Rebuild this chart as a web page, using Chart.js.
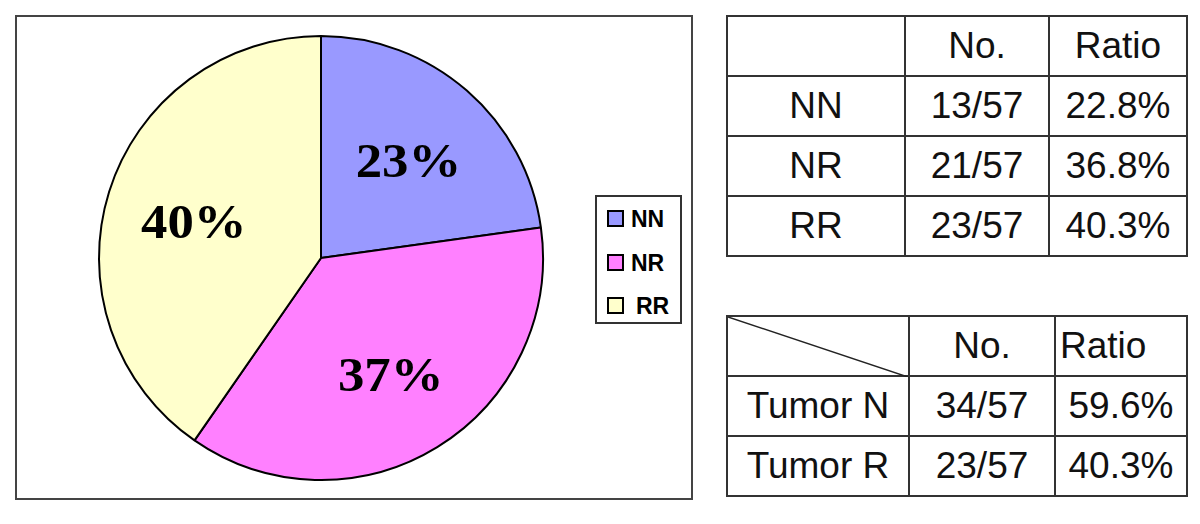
<!DOCTYPE html>
<html>
<head>
<meta charset="utf-8">
<script src="https://cdn.jsdelivr.net/npm/chart.js@4"></script>
<style>
  body { margin: 0; background: #fff; width: 1200px; height: 524px; position: relative; overflow: hidden; font-family: Arial, "Liberation Sans", sans-serif; }
  #pieBox { position: absolute; left: 15px; top: 15px; width: 674px; height: 481px; border: 2px solid #444; }
  #pieWrap { position: absolute; left: 91px; top: 28px; width: 460px; height: 460px; }
  #legendBox { position: absolute; left: 595px; top: 195px; width: 83px; height: 125px; border: 2px solid #333; }
  .lg-item { position: absolute; left: 10px; height: 24px; font-family: Arial, "Liberation Sans", sans-serif; font-weight: bold; font-size: 23px; line-height: 24px; color: #000; white-space: nowrap; }
  .lg-item span.sw { display: inline-block; width: 13px; height: 13px; border: 2px solid #000; vertical-align: 0px; margin-right: 7px; }
  table { position: absolute; border-collapse: collapse; font-family: Arial, "Liberation Sans", sans-serif; font-size: 37px; color: #111; }
  td { border: 2px solid #333; text-align: center; padding: 0; }
  #tbl1 { left: 726px; top: 15px; }
  #tbl2 { left: 726px; top: 315px; }
</style>
</head>
<body>
<div id="pieBox"></div>
<div id="pieWrap"><canvas id="pieChart" width="460" height="460"></canvas></div>
<div id="legendBox"></div>
<table id="tbl1"></table>
<table id="tbl2"></table>

<script>
// pie data
const groupLabels = ['NN', 'NR', 'RR'];
const groupCounts = [13, 21, 23];
const totalCases = 57;
const groupRatios = ['22.8%', '36.8%', '40.3%'];
const sliceColors = ['#9999FF', '#FF80FF', '#FFFFCC'];

// second table
const tumorLabels = ['Tumor N', 'Tumor R'];
const tumorCounts = [34, 23];
const tumorRatios = ['59.6%', '40.3%'];

const headerLabels = ['No.', 'Ratio'];

// percent labels drawn on the slices
const sliceLabels = {
  id: 'sliceLabels',
  afterDatasetsDraw(chart) {
    const ctx = chart.ctx;
    const meta = chart.getDatasetMeta(0);
    const vals = chart.data.datasets[0].data;
    const sum = vals.reduce((a, b) => a + b, 0);
    meta.data.forEach((arc, i) => {
      const p = arc.getProps(['x', 'y', 'startAngle', 'endAngle', 'outerRadius'], true);
      const mid = (p.startAngle + p.endAngle) / 2;
      const r = p.outerRadius * 0.6;
      const txt = Math.round(vals[i] / sum * 100) + '%';
      ctx.save();
      ctx.translate(p.x + Math.cos(mid) * r, p.y + Math.sin(mid) * r + 7);
      ctx.scale(1.1, 1); // original font is a bit wider
      ctx.font = 'bold 48px "Liberation Serif", "Times New Roman", serif';
      ctx.fillStyle = '#000';
      ctx.textAlign = 'center';
      ctx.textBaseline = 'middle';
      ctx.fillText(txt, 0, 0);
      ctx.restore();
    });
  }
};

new Chart('pieChart', {
  type: 'pie',
  data: {
    labels: groupLabels,
    datasets: [{
      data: groupCounts,
      backgroundColor: sliceColors,
      borderColor: '#000',
      borderWidth: 2,
      radius: 222
    }]
  },
  options: {
    responsive: false,
    animation: false,
    plugins: {
      legend: { display: false },
      tooltip: { enabled: false }
    }
  },
  plugins: [sliceLabels]
});

// legend
const legendBox = document.getElementById('legendBox');
const legendTops = [10, 54, 97];
groupLabels.forEach((lab, i) => {
  const d = document.createElement('div');
  d.className = 'lg-item';
  d.style.top = legendTops[i] + 'px';
  d.innerHTML = '<span class="sw" style="background:' + sliceColors[i] + '"></span>' +
    '<span style="margin-left:' + (i === 2 ? 5 : 0) + 'px">' + lab + '</span>';
  legendBox.appendChild(d);
});

// tables
function buildTable(id, labels, counts, ratios, colW, rowH, diag) {
  const t = document.getElementById(id);
  let html = '<tr style="height:' + rowH + 'px">';
  html += '<td style="width:' + colW[0] + 'px;position:relative">' +
    (diag ? '<svg width="' + colW[0] + '" height="' + rowH + '" style="position:absolute;left:0;top:0"><line x1="0" y1="0" x2="' + colW[0] + '" y2="' + rowH + '" stroke="#222" stroke-width="1.5"/></svg>' : '') +
    '</td>';
  html += '<td style="width:' + colW[1] + 'px">' + headerLabels[0] + '</td>';
  html += '<td style="width:' + colW[2] + 'px' + (diag ? ';text-align:left;padding-left:4px' : '') + '">' + headerLabels[1] + '</td></tr>';
  labels.forEach((lab, i) => {
    html += '<tr style="height:' + rowH + 'px"><td>' + lab + '</td><td>' + counts[i] + '/' + totalCases + '</td><td>' + ratios[i] + '</td></tr>';
  });
  t.innerHTML = html;
}
buildTable('tbl1', groupLabels, groupCounts, groupRatios, [176, 142, 136], 60, false);
buildTable('tbl2', tumorLabels, tumorCounts, tumorRatios, [180, 144, 126], 60, true);
</script>
</body>
</html>
